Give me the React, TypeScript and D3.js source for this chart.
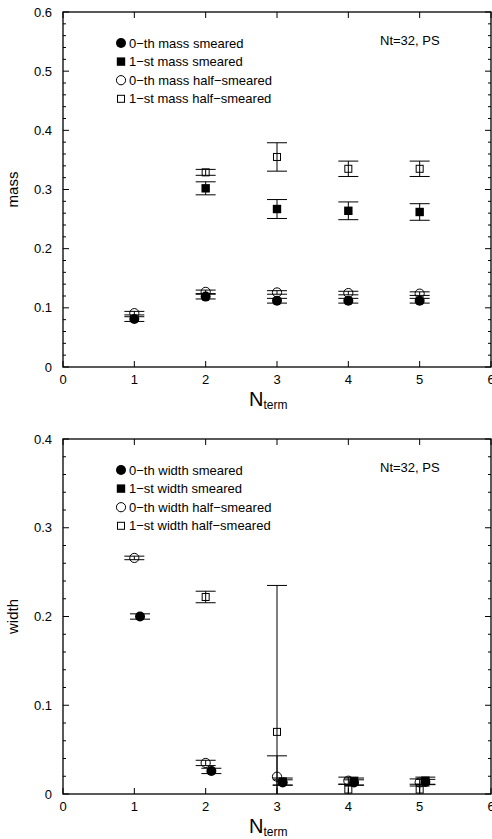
import React from "react";
import * as d3 from "d3";

const xTicks = [0, 1, 2, 3, 4, 5, 6];

const massXs0 = [1, 2, 3, 4, 5];
const massSmeared0 = [0.081, 0.119, 0.112, 0.112, 0.112];
const massSmeared0Err = [0.004, 0.004, 0.004, 0.004, 0.004];
const massHalf0 = [0.091, 0.127, 0.126, 0.125, 0.124];
const massHalf0Err = [0.003, 0.003, 0.003, 0.003, 0.003];
const massXs1 = [2, 3, 4, 5];
const massSmeared1 = [0.302, 0.267, 0.264, 0.262];
const massSmeared1Err = [0.011, 0.016, 0.015, 0.014];
const massHalf1 = [0.329, 0.355, 0.335, 0.335];
const massHalf1Err = [0.005, 0.024, 0.013, 0.013];

const widthXsSmeared0 = [1.08, 2.08, 3.08, 4.08, 5.08];
const widthSmeared0 = [0.2, 0.026, 0.013, 0.013, 0.0135];
const widthSmeared0Err = [0.003, 0.003, 0.003, 0.003, 0.003];
const widthXsHalf0 = [1, 2, 3, 4, 5];
const widthHalf0 = [0.266, 0.035, 0.0195, 0.015, 0.013];
const widthHalf0Err = [0.002, 0.003, 0.0235, 0.004, 0.004];
const widthXsSmeared1 = [3.08, 4.08, 5.08];
const widthSmeared1 = [0.014, 0.014, 0.015];
const widthSmeared1Err = [0.004, 0.004, 0.004];
const widthXsHalf1 = [2, 3, 4, 5];
const widthHalf1 = [0.222, 0.07, 0.005, 0.005];
const widthHalf1Err = [0.0065, 0.165, 0.006, 0.006];

type Series = { xs: number[]; ys: number[]; err: number[]; marker: string; label: string };

const FONT = "Liberation Sans, Arial, Helvetica, sans-serif";

function Marker({ type, x, y, legend }: { type: string; x: number; y: number; legend?: boolean }) {
  const openFill = legend ? "#fff" : "none";
  if (type === "fc") return <circle cx={x} cy={y} r={5} fill="#000" />;
  if (type === "oc") return <circle cx={x} cy={y} r={4.6} fill={openFill} stroke="#000" strokeWidth={1} />;
  if (type === "fs") return <rect x={x - 4.2} y={y - 4.2} width={8.4} height={8.4} fill="#000" />;
  return <rect x={x - 3.5} y={y - 3.5} width={7} height={7} fill={openFill} stroke="#000" strokeWidth={1} />;
}

function Panel({
  top, yMax, yMajor, series, ylabel, id,
}: { top: number; yMax: number; yMajor: number[]; series: Series[]; ylabel: string; id: string }) {
  const left = 63, right = 491, bottom = top + 355;
  const x = d3.scaleLinear().domain([0, 6]).range([left, right]);
  const y = d3.scaleLinear().domain([0, yMax]).range([bottom, top]);
  const minor = d3.range(0, yMax + 1e-9, 0.02).filter((v) => !yMajor.some((m) => Math.abs(m - v) < 1e-9));
  const fmt = (v: number) => (v === 0 ? "0" : d3.format(".1f")(v));
  const capHalf = 10;
  const isOpen = (m: string) => m === "oc" || m === "os";
  const drawOrder = [...series.filter((s) => isOpen(s.marker)), ...series.filter((s) => !isOpen(s.marker))];
  return (
    <g>
      <defs>
        <clipPath id={id}>
          <rect x={left} y={top} width={right - left} height={bottom - top} />
        </clipPath>
      </defs>
      {yMajor.map((v) => (
        <g key={"ym" + v}>
          <line x1={left} x2={left + 6} y1={y(v)} y2={y(v)} stroke="#000" strokeWidth={1} />
          <line x1={right} x2={right - 6} y1={y(v)} y2={y(v)} stroke="#000" strokeWidth={1} />
          <text x={52} y={y(v)} dy="0.35em" textAnchor="end" fontFamily={FONT} fontSize={13}>
            {fmt(v)}
          </text>
        </g>
      ))}
      {minor.map((v) => (
        <g key={"yn" + v}>
          <line x1={left} x2={left + 3} y1={y(v)} y2={y(v)} stroke="#000" strokeWidth={1} />
          <line x1={right} x2={right - 3} y1={y(v)} y2={y(v)} stroke="#000" strokeWidth={1} />
        </g>
      ))}
      {xTicks.map((v) => (
        <g key={"x" + v}>
          <line x1={x(v)} x2={x(v)} y1={bottom} y2={bottom - 6} stroke="#000" strokeWidth={1} />
          <line x1={x(v)} x2={x(v)} y1={top} y2={top + 6} stroke="#000" strokeWidth={1} />
          <text x={x(v)} y={bottom + 17} textAnchor="middle" fontFamily={FONT} fontSize={13}>
            {v}
          </text>
        </g>
      ))}
      <rect x={left} y={top} width={right - left} height={bottom - top} fill="none" stroke="#000" strokeWidth={1.3} />
      <g clipPath={`url(#${id})`}>
        {drawOrder.map((s, si) =>
          s.xs.map((xv, i) => <Marker key={"m" + si + "-" + i} type={s.marker} x={x(xv)} y={y(s.ys[i])} />)
        )}
        {drawOrder.map((s, si) =>
          s.xs.map((xv, i) => {
            const cx = x(xv);
            const yv = s.ys[i];
            const e = s.err[i];
            return (
              <g key={si + "-" + i}>
                <line x1={cx} x2={cx} y1={y(yv - e)} y2={y(yv + e)} stroke="#000" strokeWidth={1} />
                <line x1={cx - capHalf} x2={cx + capHalf} y1={y(yv - e)} y2={y(yv - e)} stroke="#000" strokeWidth={1} />
                <line x1={cx - capHalf} x2={cx + capHalf} y1={y(yv + e)} y2={y(yv + e)} stroke="#000" strokeWidth={1} />
              </g>
            );
          })
        )}
      </g>
      {series.map((s, i) => (
        <g key={"lg" + i}>
          <Marker type={s.marker} x={121} y={top + 31 + i * 18.6} legend />
          <text x={129} y={top + 31 + i * 18.6} dy="0.35em" fontFamily={FONT} fontSize={13}>
            {s.label}
          </text>
        </g>
      ))}
      <text x={380} y={top + 28} dy="0.35em" fontFamily={FONT} fontSize={13}>
        Nt=32, PS
      </text>
      <text
        transform={`translate(18,${(top + bottom) / 2}) rotate(-90)`}
        textAnchor="middle"
        fontFamily={FONT}
        fontSize={15}
      >
        {ylabel}
      </text>
      <text x={249} y={bottom + 39} fontFamily={FONT} fontSize={20}>
        N
        <tspan fontSize={12} dy={3}>term</tspan>
      </text>
    </g>
  );
}

export default function App() {
  const massSeries: Series[] = [
    { xs: massXs0, ys: massSmeared0, err: massSmeared0Err, marker: "fc", label: "0\u2212th mass smeared" },
    { xs: massXs1, ys: massSmeared1, err: massSmeared1Err, marker: "fs", label: "1\u2212st mass smeared" },
    { xs: massXs0, ys: massHalf0, err: massHalf0Err, marker: "oc", label: "0\u2212th mass half\u2212smeared" },
    { xs: massXs1, ys: massHalf1, err: massHalf1Err, marker: "os", label: "1\u2212st mass half\u2212smeared" },
  ];
  const widthSeries: Series[] = [
    { xs: widthXsSmeared0, ys: widthSmeared0, err: widthSmeared0Err, marker: "fc", label: "0\u2212th width smeared" },
    { xs: widthXsSmeared1, ys: widthSmeared1, err: widthSmeared1Err, marker: "fs", label: "1\u2212st width smeared" },
    { xs: widthXsHalf0, ys: widthHalf0, err: widthHalf0Err, marker: "oc", label: "0\u2212th width half\u2212smeared" },
    { xs: widthXsHalf1, ys: widthHalf1, err: widthHalf1Err, marker: "os", label: "1\u2212st width half\u2212smeared" },
  ];
  return (
    <svg width={492} height={839} style={{ position: "absolute", left: 0, top: 0, background: "#fff" }}>
      <rect width={492} height={839} fill="#fff" />
      <Panel top={12} yMax={0.6} yMajor={[0, 0.1, 0.2, 0.3, 0.4, 0.5, 0.6]} series={massSeries} ylabel="mass" id="c1" />
      <Panel top={439} yMax={0.4} yMajor={[0, 0.1, 0.2, 0.3, 0.4]} series={widthSeries} ylabel="width" id="c2" />
    </svg>
  );
}
